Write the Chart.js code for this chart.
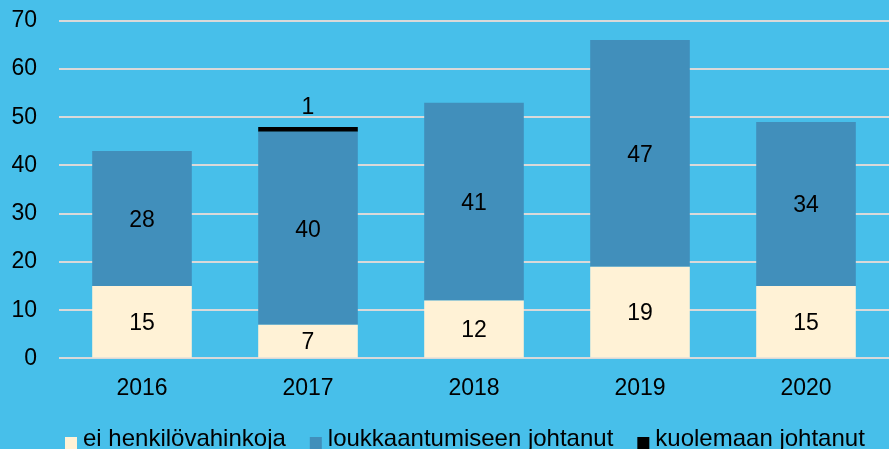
<!DOCTYPE html>
<html>
<head>
<meta charset="utf-8">
<script src="https://cdn.jsdelivr.net/npm/chart.js@4"></script>
<style>
  html, body { margin: 0; padding: 0; overflow: hidden; background: #47BFEA; }
  #wrap { width: 889px; height: 464px; margin-top: -15px; }
</style>
</head>
<body>
<div id="wrap"><canvas id="chartOne"></canvas></div>
<script>
let vuodet = ['2016', '2017', '2018', '2019', '2020'];
let eiHenkilo = [15, 7, 12, 19, 15];
let loukkaantuminen = [28, 40, 41, 47, 34];
let kuolema = [null, 1, null, null, null];
let yTicks = [0, 10, 20, 30, 40, 50, 60, 70];

let fontti = '"Liberation Sans", Arial, sans-serif';

// labels inside the segments, the thin black one gets its label above
var segmentLabels = {
    id: 'segmentLabels',
    afterDatasetsDraw(chart) {
        let c = chart.ctx;
        c.save();
        c.font = '23px ' + fontti;
        c.fillStyle = '#000';
        c.textAlign = 'center';
        c.textBaseline = 'middle';
        chart.data.datasets.forEach(function(ds, i) {
            let meta = chart.getDatasetMeta(i);
            meta.data.forEach(function(bar, j) {
                let v = ds.data[j];
                if (v == null || v === 0) return;
                if (i == 2) {
                    c.fillText(String(v), bar.x, bar.y - 19);
                } else {
                    c.fillText(String(v), bar.x, (bar.y + bar.base) / 2 + 2);
                }
            });
        });
        c.restore();
    }
};

// own legend, tighter box-text gap than the built in one
var omaLegend = {
    id: 'omaLegend',
    afterDraw(chart) {
        let c = chart.ctx;
        c.save();
        c.font = '24px ' + fontti;
        c.textBaseline = 'alphabetic';
        c.textAlign = 'left';
        let x = 65;
        let y = 461;
        chart.data.datasets.forEach(function(ds) {
            c.fillStyle = ds.backgroundColor;
            c.fillRect(x, 452, 12, 12);
            c.fillStyle = '#000';
            c.fillText(ds.label, x + 18, y);
            x += 18 + c.measureText(ds.label).width + 24;
        });
        c.restore();
    }
};

var ctx = document.getElementById('chartOne').getContext('2d');
var chartOne = new Chart(ctx, {
    type: 'bar',
    data: {
        labels: vuodet,
        datasets: [{
            label: 'ei henkilövahinkoja',
            backgroundColor: '#FFF2D6',
            data: eiHenkilo
        }, {
            label: 'loukkaantumiseen johtanut',
            backgroundColor: '#418FBB',
            data: loukkaantuminen
        }, {
            label: 'kuolemaan johtanut',
            backgroundColor: '#000000',
            data: kuolema
        }]
    },
    options: {
        responsive: true,
        maintainAspectRatio: false,
        animation: false,
        layout: { padding: { top: 0, right: 0, left: 0, bottom: 39 } },
        datasets: {
            bar: { categoryPercentage: 1, barPercentage: 0.6, borderWidth: 0 }
        },
        scales: {
            x: {
                stacked: true,
                grid: { display: false },
                border: { display: false },
                ticks: {
                    color: '#000',
                    padding: 8,
                    font: { family: fontti, size: 23 }
                }
            },
            y: {
                stacked: true,
                min: 0,
                max: 70,
                afterBuildTicks: function(axis) {
                    axis.ticks = yTicks.map(function(v) { return { value: v }; });
                },
                afterFit: function(axis) { axis.width = 59; },
                grid: { color: '#D9D9D9', lineWidth: 2, drawTicks: false },
                border: { display: false },
                ticks: {
                    color: '#000',
                    padding: 22,
                    font: { family: fontti, size: 23 }
                }
            }
        },
        plugins: {
            tooltip: { enabled: false },
            legend: { display: false }
        }
    },
    plugins: [segmentLabels, omaLegend]
});
</script>
</body>
</html>
